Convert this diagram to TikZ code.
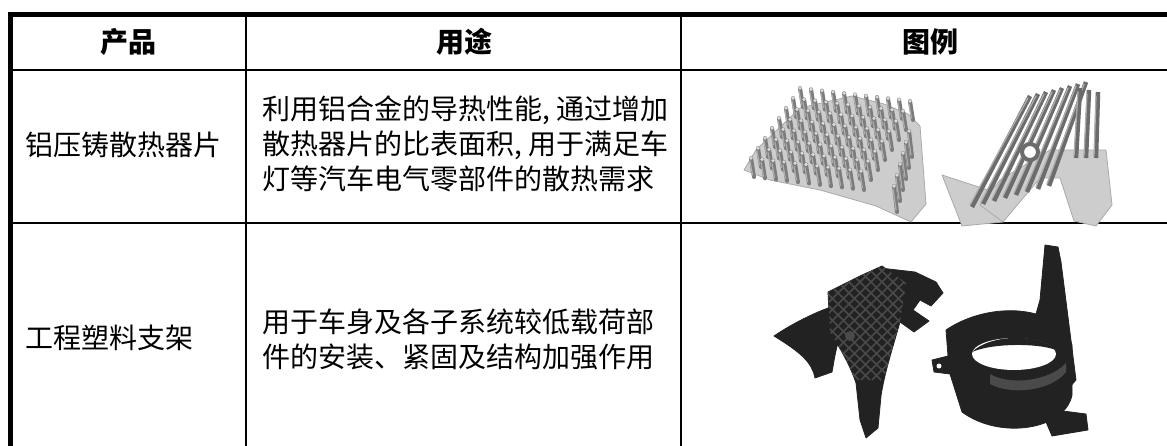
\documentclass[tikz,border=0pt]{standalone}
\usepackage{fontspec}
\newfontfamily\cjk{Noto Sans CJK SC}
\definecolor{plate}{HTML}{CDCDCD}
\definecolor{plateedge}{HTML}{AAAAAA}
\definecolor{pinc}{HTML}{7C7C7C}
\definecolor{pinhi}{HTML}{ADADAD}
\definecolor{pintop}{HTML}{DADADA}
\definecolor{finc}{HTML}{6C6C6C}
\definecolor{blk}{HTML}{222222}
\definecolor{rib}{HTML}{4A4A4A}
\tikzset{
  hdr/.style={font=\cjk\bfseries\fontsize{28}{34}\selectfont, inner sep=0pt, anchor=base},
  txt/.style={font=\cjk\fontsize{28}{34}\selectfont, inner sep=0pt, anchor=base west},
  thick border/.style={line width=4.5pt},
  rule/.style={line width=2pt},
  pin/.style={line width=4pt, pinc, line cap=round},
  pinlight/.style={line width=1.2pt, pinhi, line cap=round},
  fin/.style={line width=4.5pt, finc, line cap=butt},
  finlight/.style={line width=1.3pt, pinhi, line cap=round},
  metal/.style={fill=plate, draw=plateedge, line width=0.8pt, line join=round},
  plastic/.style={fill=blk, draw=blk, line width=0.8pt, line join=round},
}
\begin{document}
\begin{tikzpicture}[x=1pt,y=-1pt]
\useasboundingbox (0,0) rectangle (1167,446);
% ---------- table rules ----------
\draw[thick border] (8,14.3) -- (1167,14.3);
\draw[thick border] (10.3,12) -- (10.3,446);
\draw[rule] (10,70) -- (1167,70);
\draw[line width=2.3pt] (10,223) -- (1167,223);
\draw[rule] (246,14) -- (246,446);
\draw[rule] (681,14) -- (681,446);
% ---------- header ----------
\node[hdr] (h1) at (128,53) {产品};
\node[hdr] (h2) at (464,53) {用途};
\node[hdr] (h3) at (930,53) {图例};
% ---------- row 1 ----------
\node[txt] (p1) at (25,156) {铝压铸散热器片};
\node[txt] (u1a) at (262,120) {利用铝合金的导热性能\makebox[14pt][l]{,}通过增加};
\node[txt] (u1b) at (262,155) {散热器片的比表面积\makebox[14pt][l]{,}用于满足车};
\node[txt] (u1c) at (262,190) {灯等汽车电气零部件的散热需求};
% ---------- row 2 ----------
\node[txt] (p2) at (25,348) {工程塑料支架};
\node[txt] (u2a) at (262,332) {用于车身及各子系统较低载荷部};
\node[txt] (u2b) at (262,367) {件的安装、紧固及结构加强作用};
% ---------- pin-fin heat sink ----------
\path[metal] (744,170) -- (756,150) -- (800,108) -- (852,96) -- (884,104)
  -- (908,114) -- (920,126) -- (926,204) -- (911,222) -- (876,206) -- (820,190)
  -- (770,180) -- cycle;
\foreach \r in {0,...,7}{
  \foreach \c in {0,...,10}{
    \pgfmathsetmacro\tx{800+11*\c-7*\r}
    \pgfmathsetmacro\ty{88+10*\r+1.3*\c}
    \draw[pin] (\tx+3,\ty+19) -- (\tx,\ty);
    \draw[pinlight] (\tx+1.5,\ty+17) -- (\tx-1,\ty+3);
    \fill[pintop] (\tx,\ty) circle (1.8);
  }
}
\foreach \r in {3,...,8}{
  \pgfmathsetmacro\tx{918-3*\r}
  \pgfmathsetmacro\ty{98+11*\r}
  \draw[pin] (\tx+3,\ty+26) -- (\tx,\ty);
  \draw[pinlight] (\tx+2,\ty+24) -- (\tx-1,\ty+3);
  \fill[pintop] (\tx,\ty) circle (1.8);
}
% ---------- plate-fin heat sink ----------
\path[metal] (942,175) -- (988,190) -- (1003,222) -- (962,226) -- cycle;
\path[metal] (980,205) -- (1000,180) -- (1050,150) -- (1106,150) -- (1112,205)
  -- (1096,226) -- (1074,221) -- (1060,178) -- (1040,178) -- (1003,222) -- cycle;
\foreach \i in {0,...,7}{
  \draw[fin] (972+11*\i,207-3*\i) -- (1030+8*\i,96-2*\i);
  \draw[finlight] (970+11*\i,205-3*\i) -- (1028+8*\i,98-2*\i);
}
\foreach \i in {0,...,2}{
  \draw[fin] (1076+10*\i,158) -- (1080+9*\i,88+2*\i);
  \draw[finlight] (1074+10*\i,156) -- (1078+9*\i,92+2*\i);
}
\draw[line width=4pt, finc, fill=white] (1030,152) circle (8);
% ---------- lattice bracket ----------
\path[plastic] (774,336) .. controls (790,325) and (815,312) .. (834,306)
  -- (842,330) .. controls (835,350) and (834,362) .. (832,372)
  -- (815,378) .. controls (812,362) and (800,352) .. (774,336) -- cycle;
\path[plastic] (880,268) -- (915,272) -- (936,282) -- (943,293) -- (931,306)
  -- (920,300) -- (913,310) -- (929,321) -- (914,332) -- (900,322) -- cycle;
\path[plastic] (828,292) -- (860,276) -- (882,266) -- (906,283) -- (900,322)
  .. controls (892,350) and (884,375) .. (881,396) -- (878,428) -- (866,438)
  -- (860,420) -- (856,383) .. controls (850,365) and (840,348) .. (830,332) -- cycle;
\begin{scope}
  \clip (828,292) -- (860,276) -- (882,266) -- (906,283) -- (900,322)
    .. controls (892,350) and (884,375) .. (881,396) -- (856,383)
    .. controls (850,365) and (840,348) .. (830,332) -- cycle;
  \foreach \k in {-12,...,12}{
    \draw[rib, line width=1.6pt] (860+11*\k,260) -- (860+11*\k+120,380);
    \draw[rib, line width=1.6pt] (860+11*\k,260) -- (860+11*\k-120,380);
  }
\end{scope}
\fill[rib] (850,336) circle (5);
% ---------- ring bracket ----------
\path[plastic] (1045,245) -- (1058,247) -- (1061,262) -- (1076,380) -- (1060,398)
  -- (1030,335) -- (1040,300) -- cycle;
\path[plastic] (932,360) -- (948,356) -- (946,330)
  .. controls (990,300) and (1060,305) .. (1072,345)
  -- (1072,395) .. controls (1065,430) and (1000,440) .. (962,412)
  -- (950,374) -- (934,372) -- cycle;
\path[plastic] (1040,408) -- (1086,414) -- (1088,430) -- (1052,436) -- cycle;
\fill[white] (939,366) circle (2.5);
\fill[white] (1014,354) ellipse (42 and 16);
\fill[blk] (972,352) .. controls (990,334) and (1040,333) .. (1056,350)
  .. controls (1038,343) and (992,343) .. (972,352) -- cycle;
\fill[rib] (990,374) .. controls (1010,386) and (1050,381) .. (1066,363)
  -- (1066,372) .. controls (1050,392) and (1010,395) .. (990,384) -- cycle;
\end{tikzpicture}
\end{document}
